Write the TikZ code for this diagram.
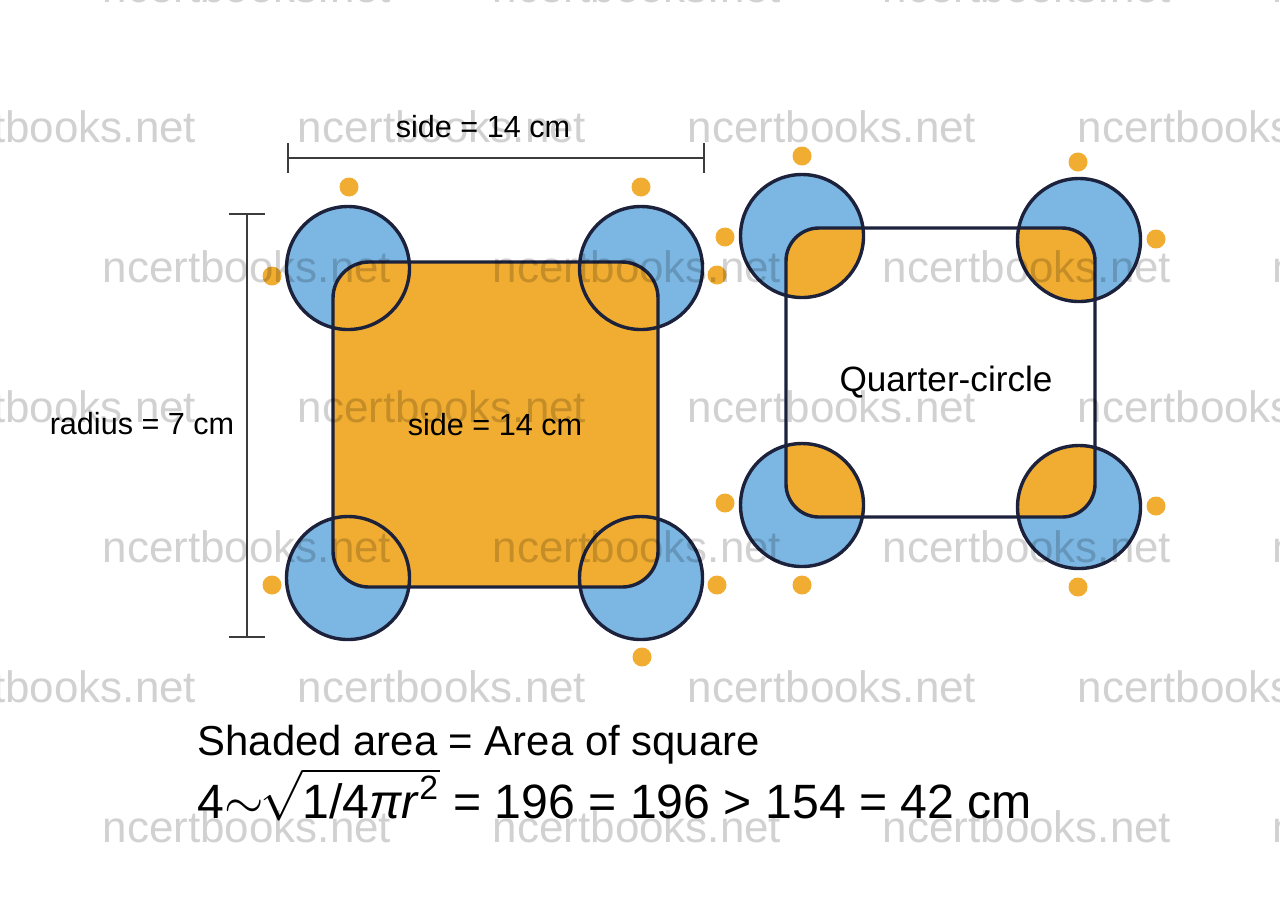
\documentclass[tikz,border=0pt]{standalone}
\usepackage{fontspec}
\setmainfont{Liberation Sans}
\usetikzlibrary{arrows.meta}
\definecolor{sqorange}{RGB}{241,173,49}
\definecolor{cblue}{RGB}{124,182,226}
\definecolor{navy}{RGB}{28,33,60}
\definecolor{dimgray}{RGB}{60,60,60}
\begin{document}
\begin{tikzpicture}[
        x=0.01cm, y=-0.01cm,
        rim/.style={draw=navy, line width=0.34mm},
        dimline/.style={draw=dimgray, line width=0.16mm},
        txt/.style={inner sep=0pt, font=\fontsize{8.7}{10}\selectfont},
        wmark/.style={inner sep=0pt, opacity=0.18, font=\fontsize{12.5}{14}\selectfont},
    ]
    \useasboundingbox (0,0) rectangle (1280,896);

    % left figure: full square shaded
    \foreach \x/\y in {348/268, 641/268, 348/578, 641/578}
        \fill[cblue] (\x,\y) circle (61.5);
    \fill[sqorange, rounded corners=3.6mm] (333,262) rectangle (658,587);
    \foreach \x/\y in {348/268, 641/268, 348/578, 641/578}
        \draw[rim] (\x,\y) circle (61.5);
    \draw[rim, rounded corners=3.6mm] (333,262) rectangle (658,587);

    % right figure: quarter circles only
    \foreach \x/\y in {802/236, 1079/240, 802/505, 1079/507}
        \fill[cblue] (\x,\y) circle (61.5);
    \begin{scope}
        \clip[rounded corners=3.3mm] (786,228) rectangle (1095,517);
        \foreach \x/\y in {802/236, 1079/240, 802/505, 1079/507}
            \fill[sqorange] (\x,\y) circle (61.5);
    \end{scope}
    \foreach \x/\y in {802/236, 1079/240, 802/505, 1079/507}
        \draw[rim] (\x,\y) circle (61.5);
    \draw[rim, rounded corners=3.3mm] (786,228) rectangle (1095,517);

    % small dots
    \foreach \x/\y in {349/187, 641/187, 272/276, 725/237, 717/275, 272/585,
                       717/585, 642/657, 802/156, 1078/162, 1156/239, 725/503,
                       802/585, 1156/506, 1078/587}
        \fill[sqorange] (\x,\y) circle (9.5);

    % dimensions
    \coordinate (topL) at (287,158);
    \coordinate (topR) at (705,158);
    \coordinate (radT) at (247,213);
    \coordinate (radB) at (247,638);
    \draw[dimline, {Bar[width=3mm]}-{Bar[width=3mm]}] (topL) -- (topR);
    \draw[dimline, {Bar[width=3.5mm]}-{Bar[width=3.5mm]}] (radT) -- (radB);

    \node[txt] (topside) at (483,127) {side = 14 cm};
    \node[txt] (radius) at (142,424) {radius = 7 cm};
    \node[txt] (inside) at (495,425) {side = 14 cm};
    \node[txt, font=\fontsize{10}{12}\selectfont] (quarter) at (946,382) {Quarter-circle};

    \node[anchor=base west, inner sep=0pt, font=\fontsize{11.9}{14}\selectfont]
        (area) at (197,755) {Shaded area = Area of square};
    \node[anchor=base west, inner sep=0pt, font=\fontsize{13.7}{16}\selectfont]
        (calc) at (197,818) {4$\sim$\hspace{-1pt}$\sqrt{\mbox{1/4\textit{πr}\textsuperscript{2}}}$ = 196 = 196 > 154 = 42 cm};

    % watermark
    \foreach \yy in {127,407,687}
        \foreach \xx in {52,442,832,1222}
            \node[wmark] (wm-\xx-\yy) at (\xx,\yy) {ncertbooks.net};
    \foreach \yy in {-13,267,547,827}
        \foreach \xx in {247,637,1027,1417}
            \node[wmark] (wm-\xx-\yy) at (\xx,\yy) {ncertbooks.net};
\end{tikzpicture}
\end{document}
